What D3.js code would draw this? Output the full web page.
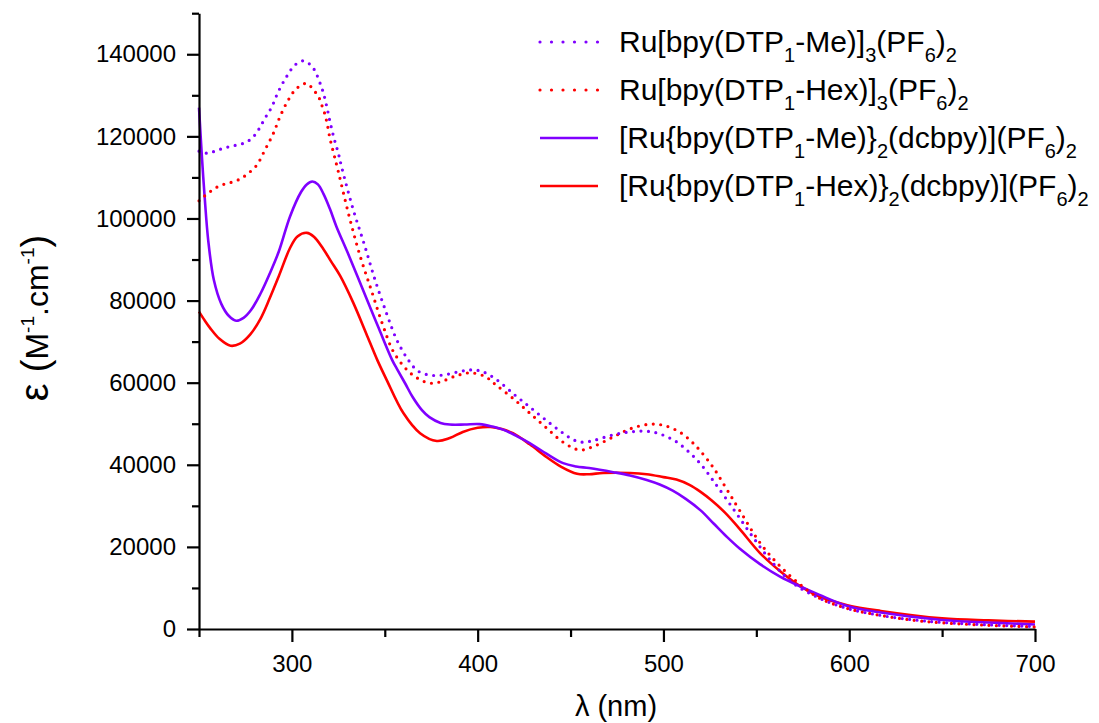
<!DOCTYPE html>
<html><head><meta charset="utf-8">
<script src="https://cdn.jsdelivr.net/npm/d3@7"></script>
<style>body{margin:0;background:#fff}svg{display:block}text{font-family:"Liberation Sans",Arial,sans-serif}</style>
</head><body><svg id="c" width="1099" height="723"></svg>
<script>
// ---- data ----
const meTrisWl  = [250,254,258,263.1,268.5,273.9,278.4,282,285.5,289.2,292.7,297.2,301.7,306.2,310.7,313,315.2,317,318.8,320.5,322.7,325,326.8,332.8,338.9,344.8,351.1,356.5,362.7,368,375,382,390,396,402,410,420,428,437,446,452,457,463,473,482,489,495,500,507,514,520,527,538,548,559,570,584,599,617,635,650,675,700];
const meTrisEps = [116400,115900,116300,117100,117700,118300,119500,121600,124400,127200,130900,134600,137400,138400,137100,135400,132900,130500,127200,123600,119500,115900,112500,102500,93800,85000,76700,70400,65500,62800,61800,61900,62700,63100,62800,60800,57000,54100,50800,47700,46000,45500,46000,47300,48000,48200,47900,47200,45600,43000,40200,36000,29000,22500,16000,11100,7500,5000,3300,2200,1600,1000,600];

const hexTrisWl  = [250,255.9,261.3,266.7,272.1,276.5,281.1,285.5,290,293.6,298.1,302.6,308,311.6,314.3,316.1,317.9,319.1,320.5,322.7,325,330.9,336.7,343,348.9,354.6,362,368,374,380,388,396,404,410,420,428,437,446,455,463,473,483,493,501,509,515,520,527,534,541,552,563,574,584,599,617,635,650,675,700];
const hexTrisEps = [104300,106500,108000,108700,109600,111000,113000,116700,120700,124800,128900,131700,132900,131300,129700,127600,125200,122800,119500,115500,111400,100400,90900,82200,74100,67600,63100,61000,59900,60200,61600,62400,61500,59400,55800,52600,49000,45500,43600,44600,46800,48900,49900,49500,47900,45700,43300,39200,34100,28900,21000,15200,10700,7500,5000,3300,2100,1500,900,500];

const meDcbWl  = [250,251.5,253,255,258,262,266,270,274,278,283,288,293,299,305,308,311,314,317,320.5,324,330,340,347,354,357,361,365,370,374,380,385,393,401,408,414,421,428,437,446,453,460,473,482,491,498,505,512,520,527,534,541,552,563,574,584,599,617,650,680,700];
const meDcbEps = [127000,115500,105500,94500,85000,79200,76300,75100,75800,77700,81600,86500,92000,100500,106500,108300,109000,108300,106000,102300,98000,91700,80700,73000,65500,63000,59800,56500,53300,51600,50200,49800,49800,49900,49300,48500,47000,45300,42700,40400,39600,39200,38200,37400,36300,35200,33700,31700,28900,25700,22500,19600,15800,12700,10300,8300,5600,4000,2200,1500,1100];

const hexDcbWl  = [250,253,256,261,267,272,277.5,283,288,293,299,303,308,312,317,321,326,333,340,346,351,360,369,378,385,392,400,407,413,419,428,437,445,453.5,460,467.5,482,491,500,507,514,520,526,533,541,552,563,574,584,599,617,650,675,700];
const hexDcbEps = [77300,75200,73300,70700,69000,69500,71700,75500,80500,86000,92800,95600,96500,95500,92500,89600,86000,79500,72000,65500,60700,52600,47700,45800,46500,48000,49000,49200,48700,47700,45000,41900,39500,37800,37700,38000,38000,37700,37000,36400,35100,33400,31300,28400,24400,18500,14000,10300,7900,5800,4400,2600,2100,1800];

const xMajorTicks = [300,400,500,600,700];
const xMinorTicks = [250,350,450,550,650];
const yMajorTicks = [0,20000,40000,60000,80000,100000,120000,140000];
const yMinorTicks = [10000,30000,50000,70000,90000,110000,130000,150000];

// legend labels: [text, isSubscript]
const labelMeTris  = [["Ru[bpy(DTP",0],["1",1],["-Me)]",0],["3",1],["(PF",0],["6",1],[")",0],["2",1]];
const labelHexTris = [["Ru[bpy(DTP",0],["1",1],["-Hex)]",0],["3",1],["(PF",0],["6",1],[")",0],["2",1]];
const labelMeDcb   = [["[Ru{bpy(DTP",0],["1",1],["-Me)}",0],["2",1],["(dcbpy)](PF",0],["6",1],[")",0],["2",1]];
const labelHexDcb  = [["[Ru{bpy(DTP",0],["1",1],["-Hex)}",0],["2",1],["(dcbpy)](PF",0],["6",1],[")",0],["2",1]];

const PURPLE = "#8000ff", RED = "#ff0000";
const series = [
  {wl: meTrisWl,  eps: meTrisEps,  color: PURPLE, dotted: true,  label: labelMeTris},
  {wl: hexTrisWl, eps: hexTrisEps, color: RED,    dotted: true,  label: labelHexTris},
  {wl: meDcbWl,   eps: meDcbEps,   color: PURPLE, dotted: false, label: labelMeDcb},
  {wl: hexDcbWl,  eps: hexDcbEps,  color: RED,    dotted: false, label: labelHexDcb}
];

// ---- drawing ----
const svg = d3.select("#c");
const x = d3.scaleLinear().domain([250,700]).range([199,1035]);
const y = d3.scaleLinear().domain([0,150000]).range([629,13.2]);

const line = d3.line().x(d=>x(d[0])).y(d=>y(d[1])).curve(d3.curveCatmullRom.alpha(0.5));

const order = [3,2,1,0];
order.forEach(i=>{
  const s = series[i];
  const pts = s.wl.map((w,k)=>[w, s.eps[k]]);
  svg.append("path").attr("d", line(pts)).attr("fill","none")
    .attr("stroke", s.color)
    .attr("stroke-width", s.dotted ? 3.2 : 2.6)
    .attr("stroke-linecap", s.dotted ? "round" : "butt")
    .attr("stroke-linejoin","round")
    .attr("stroke-dasharray", s.dotted ? "0,7.5" : null);
});

// axes
const fmt = d3.format("d");
svg.append("g").attr("transform","translate(199,0)")
  .call(d3.axisLeft(y).tickValues(yMajorTicks).tickSize(12).tickSizeOuter(0).tickPadding(11).tickFormat(fmt));
const gyMin = svg.append("g").attr("transform","translate(199,0)")
  .call(d3.axisLeft(y).tickValues(yMinorTicks).tickSize(7).tickSizeOuter(0).tickFormat(""));
gyMin.select(".domain").remove();
svg.append("g").attr("transform","translate(0,629)")
  .call(d3.axisBottom(x).tickValues(xMajorTicks).tickSize(13).tickSizeOuter(0).tickPadding(13).tickFormat(fmt));
const gxMin = svg.append("g").attr("transform","translate(0,629)")
  .call(d3.axisBottom(x).tickValues(xMinorTicks).tickSize(8).tickSizeOuter(0).tickFormat(""));
gxMin.select(".domain").remove();

svg.selectAll(".domain, .tick line").attr("stroke","#000").attr("stroke-width",2.2);
svg.selectAll(".tick text").attr("fill","#000").style("font-size","24px")
  .style("font-family","'Liberation Sans',Arial,sans-serif");

// axis titles
svg.append("text").attr("x",616).attr("y",716).attr("text-anchor","middle")
  .style("font-size","29px").text("λ (nm)");

const yt = svg.append("text").attr("transform","translate(48,318) rotate(-90)")
  .attr("text-anchor","middle").style("font-size","32px");
yt.append("tspan").style("font-size","40px").text("ε ");
yt.append("tspan").style("font-size","38px").text("(");
yt.append("tspan").text("M");
yt.append("tspan").style("font-size","19px").attr("dy",-14).text("-1");
yt.append("tspan").attr("dy",14).text(".cm");
yt.append("tspan").style("font-size","19px").attr("dy",-14).text("-1");
yt.append("tspan").style("font-size","38px").attr("dy",14).text(")");

// legend
const legY = [42,90,138,186];
series.forEach((s,i)=>{
  const ly = legY[i];
  svg.append("line").attr("x1",540).attr("x2",598).attr("y1",ly).attr("y2",ly)
    .attr("stroke", s.color)
    .attr("stroke-width", s.dotted ? 3.2 : 2.6)
    .attr("stroke-linecap", s.dotted ? "round" : "butt")
    .attr("stroke-dasharray", s.dotted ? "0,11.5" : null);
  const t = svg.append("text").attr("x",619).attr("y",ly+10).style("font-size","30px").attr("fill","#000");
  let prevSub = 0;
  s.label.forEach(([txt,sub])=>{
    const ts = t.append("tspan").text(txt);
    if (sub) ts.style("font-size","20px");
    const dy = (sub - prevSub) * 10;
    if (dy) ts.attr("dy", dy);
    prevSub = sub;
  });
});
</script></body></html>
